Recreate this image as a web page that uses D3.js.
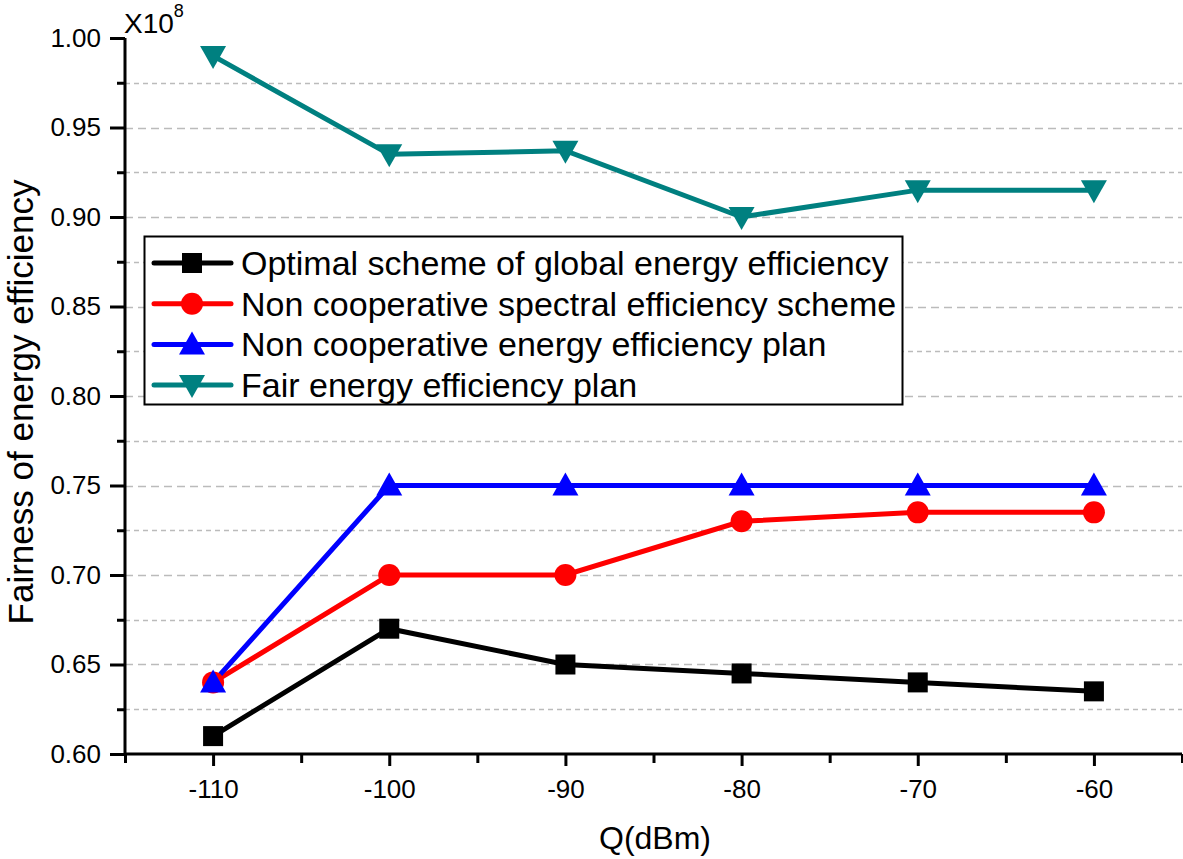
<!DOCTYPE html>
<html>
<head>
<meta charset="utf-8">
<script src="https://cdn.jsdelivr.net/npm/d3@7"></script>
<style>
  body { margin: 0; background: #fff; }
  text { font-family: Arial, "Liberation Sans", sans-serif; }
</style>
</head>
<body>
<script>
// data
var qValues = [-110, -100, -90, -80, -70, -60];
var globalOptimal = [0.61, 0.67, 0.65, 0.645, 0.64, 0.635];
var nonCoopSpectral = [0.64, 0.70, 0.70, 0.73, 0.735, 0.735];
var nonCoopEnergy = [0.64, 0.75, 0.75, 0.75, 0.75, 0.75];
var fairEnergy = [0.99, 0.935, 0.937, 0.90, 0.915, 0.915];
var seriesNames = ["Optimal scheme of global energy efficiency",
                   "Non cooperative spectral efficiency scheme",
                   "Non cooperative energy efficiency plan",
                   "Fair energy efficiency plan"];
var xTicks = [-110, -100, -90, -80, -70, -60];
var yTicks = [0.60, 0.65, 0.70, 0.75, 0.80, 0.85, 0.90, 0.95, 1.00];

var w = 1183, h = 859;
var padLeft = 125, padRight = 1182, padTop = 38, padBottom = 754;

var svg = d3.select("body").append("svg")
    .attr("width", w)
    .attr("height", h);

var xScale = d3.scaleLinear().domain([-115, -55]).range([padLeft, padRight]);
var yScale = d3.scaleLinear().domain([0.60, 1.00]).range([padBottom, padTop]);

// dashed grid at every major and minor y step
var gridVals = d3.range(0.625, 0.99, 0.025);
svg.selectAll(".grid")
   .data(gridVals)
   .enter().append("line")
     .attr("x1", padLeft).attr("x2", padRight)
     .attr("y1", function(d){ return Math.round(yScale(d)) + 0.5; })
     .attr("y2", function(d){ return Math.round(yScale(d)) + 0.5; })
     .attr("stroke", "#bbb")
     .attr("stroke-width", 1.3)
     .attr("stroke-dasharray", function(d, i){ return i % 2 == 1 ? "8,5" : "5,4"; });

// y axis
var y_axis = d3.axisLeft(yScale).tickValues(yTicks).tickSize(15).tickPadding(9)
    .tickFormat(d3.format(".2f"));
var gy = svg.append("g").attr("transform", "translate(" + padLeft + ",0)").call(y_axis);
gy.selectAll(".tick line").attr("stroke-width", 3);
gy.selectAll("text").attr("fill", "#000").style("font-size", "26px")
  .style("font-family", "Arial, 'Liberation Sans', sans-serif");
gy.select(".domain").attr("stroke-width", 3).attr("d", "M0," + padTop + "V" + padBottom);
var y_minor = d3.axisLeft(yScale).tickValues(d3.range(0.625, 1.0, 0.05)).tickSize(8).tickFormat("");
var gym = svg.append("g").attr("transform", "translate(" + padLeft + ",0)").call(y_minor);
gym.selectAll(".tick line").attr("stroke-width", 3);
gym.select(".domain").remove();

// x axis
var x_axis = d3.axisBottom(xScale).tickValues(xTicks).tickSize(12).tickPadding(14)
    .tickFormat(function(d){ return String(d); });
var gx = svg.append("g").attr("transform", "translate(0," + padBottom + ")").call(x_axis);
gx.selectAll(".tick line").attr("stroke-width", 3);
gx.selectAll("text").attr("fill", "#000").style("font-size", "26px")
  .style("font-family", "Arial, 'Liberation Sans', sans-serif");
gx.select(".domain").attr("stroke-width", 3).attr("d", "M" + padLeft + ",0H" + padRight);
var x_minor = d3.axisBottom(xScale).tickValues([-115, -105, -95, -85, -75, -65, -55]).tickSize(9).tickFormat("");
var gxm = svg.append("g").attr("transform", "translate(0," + padBottom + ")").call(x_minor);
gxm.selectAll(".tick line").attr("stroke-width", 3);
gxm.select(".domain").remove();

// axis titles
svg.append("text")
   .attr("x", 655)
   .attr("y", 849)
   .attr("text-anchor", "middle")
   .style("font-size", "32px")
   .text("Q(dBm)");

svg.append("text")
   .attr("transform", "translate(33,402) rotate(-90)")
   .attr("text-anchor", "middle")
   .style("font-size", "35px")
   .text("Fairness of energy efficiency");

var mult = svg.append("text").attr("x", 124).attr("y", 33).style("font-size", "28px");
mult.append("tspan").text("X10");
mult.append("tspan").attr("dy", -16).style("font-size", "18px").text("8");

// series
var series = [
  { name: seriesNames[0], values: globalOptimal, color: "#000000", shape: "square" },
  { name: seriesNames[1], values: nonCoopSpectral, color: "#ff0000", shape: "circle" },
  { name: seriesNames[2], values: nonCoopEnergy, color: "#0000ff", shape: "up" },
  { name: seriesNames[3], values: fairEnergy, color: "#008080", shape: "down" }
];

function drawMarker(g, shape, color) {
  if (shape == "square") {
    g.append("rect").attr("x", -10).attr("y", -10).attr("width", 20).attr("height", 20).attr("fill", color);
  } else if (shape == "circle") {
    g.append("circle").attr("r", 11).attr("fill", color);
  } else if (shape == "up") {
    g.append("path").attr("d", "M0,-13L13,10L-13,10Z").attr("fill", color);
  } else {
    g.append("path").attr("d", "M0,13L13,-10L-13,-10Z").attr("fill", color);
  }
}

var line = d3.line()
  .x(function(d, i){ return xScale(qValues[i]); })
  .y(function(d){ return yScale(d); });

series.forEach(function(s) {
  svg.append("path")
     .attr("d", line(s.values))
     .attr("fill", "none")
     .attr("stroke", s.color)
     .attr("stroke-width", 5);
});
series.forEach(function(s) {
  s.values.forEach(function(v, i) {
    var g = svg.append("g").attr("transform", "translate(" + xScale(qValues[i]) + "," + yScale(v) + ")");
    drawMarker(g, s.shape, s.color);
  });
});

// legend
svg.append("rect")
   .attr("x", 144.5).attr("y", 236.5)
   .attr("width", 758).attr("height", 168)
   .attr("fill", "#fff")
   .attr("stroke", "#000")
   .attr("stroke-width", 2);

series.forEach(function(s, i) {
  var yy = 263 + i * 40.7;
  svg.append("line")
     .attr("x1", 154).attr("x2", 231)
     .attr("y1", yy).attr("y2", yy)
     .attr("stroke", s.color)
     .attr("stroke-width", 5)
     .attr("stroke-linecap", "round");
  var g = svg.append("g").attr("transform", "translate(192," + yy + ")");
  drawMarker(g, s.shape, s.color);
  svg.append("text")
     .attr("x", 241).attr("y", yy + 12)
     .style("font-size", "34px")
     .text(s.name);
});
</script>
</body>
</html>
